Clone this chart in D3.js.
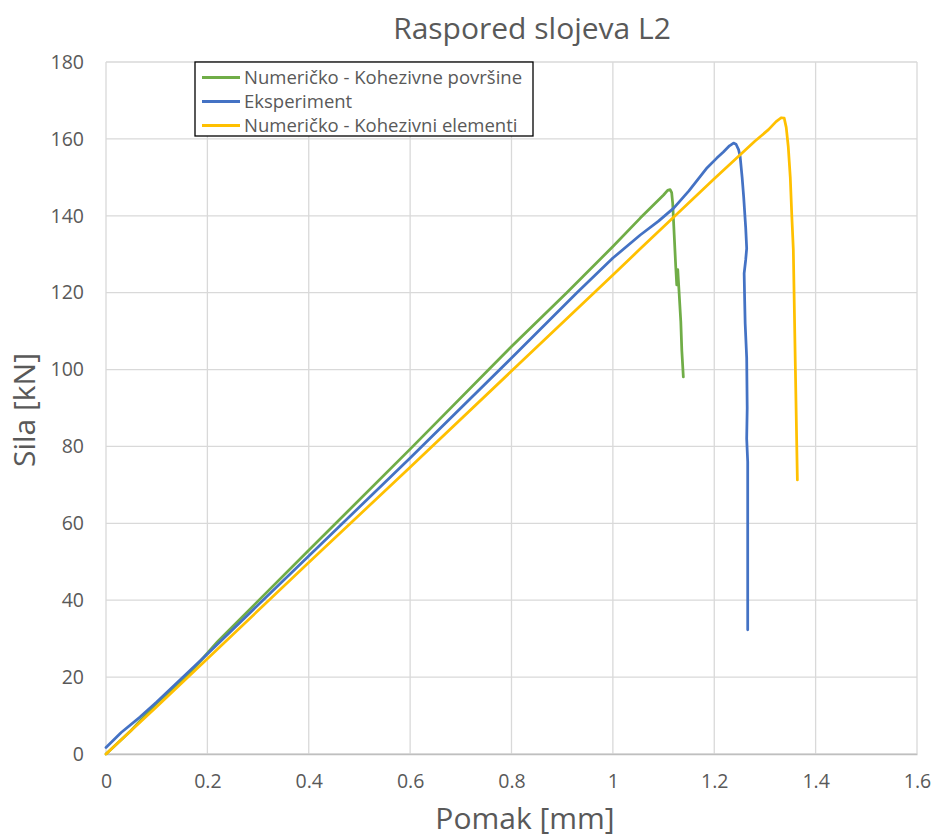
<!DOCTYPE html>
<html>
<head>
<meta charset="utf-8">
<script src="https://cdn.jsdelivr.net/npm/d3@7"></script>
<style>
  body { margin: 0; background: #fff; }
  svg text { font-family: "Open Sans", sans-serif; fill: #595959; }
</style>
</head>
<body>
<div id="chart"></div>
<script>
// Data: [pomak mm, sila kN]
const greenData = [
  [0, 0], [0.05, 6.2], [0.1, 13.2], [0.165, 21], [0.22, 29.2], [0.4, 53], [0.6, 79.3], [0.8, 106],
  [0.909, 120], [1.0, 132], [1.054, 139.4], [1.1, 145.4], [1.108, 146.6], [1.113, 146.8], [1.116, 146],
  [1.118, 143.3], [1.121, 135], [1.124, 126.8], [1.126, 122], [1.128, 126], [1.13, 121.5],
  [1.134, 112.5], [1.136, 105], [1.139, 98.1]
]
const blueData = [
  [0, 1.7], [0.03, 5.6], [0.067, 9.6], [0.1, 13.5], [0.2, 26], [0.4, 51.5], [0.6, 77],
  [0.8, 103], [0.929, 120], [1.0, 129], [1.054, 135], [1.09, 138.6], [1.12, 142], [1.15, 146.5],
  [1.186, 152.5], [1.205, 155], [1.218, 156.6], [1.23, 158.2], [1.238, 158.9], [1.243, 158.6],
  [1.248, 157.2], [1.251, 155.5], [1.255, 150], [1.258, 145], [1.262, 137], [1.264, 131.5],
  [1.262, 128.5], [1.259, 125], [1.26, 118], [1.261, 112], [1.264, 103], [1.265, 90], [1.264, 82],
  [1.266, 76], [1.266, 50], [1.266, 32.3]
]
const yellowData = [
  [0, 0], [0.1, 12.3], [0.2, 24.8], [0.4, 49.8], [0.6, 74.6], [0.8, 99.6],
  [1.0, 124.6], [1.054, 131.4], [1.2, 149.6], [1.28, 159.4], [1.307, 162.4], [1.322, 164.5],
  [1.332, 165.5], [1.338, 165.4], [1.342, 163], [1.346, 158], [1.35, 150], [1.353, 140],
  [1.356, 131.2], [1.36, 100.8], [1.364, 71.3]
]

const seriesNames = ['Numeričko - Kohezivne površine', 'Eksperiment', 'Numeričko - Kohezivni elementi']
const seriesColors = ['#70ad47', '#4472c4', '#ffc000']
const xTicks = [0, 0.2, 0.4, 0.6, 0.8, 1, 1.2, 1.4, 1.6]
const yTicks = [0, 20, 40, 60, 80, 100, 120, 140, 160, 180]

const series = [greenData, blueData, yellowData]

// Constants
const width = 936
const height = 839
const margin = { top: 62, right: 19, bottom: 85, left: 106 }
const graphWidth = width - margin.left - margin.right
const graphHeight = height - margin.top - margin.bottom

const svg = d3.select('#chart')
    .append('svg')
    .attr('width', width)
    .attr('height', height)

const x = d3.scaleLinear().domain([0, 1.6]).range([0, graphWidth])
const y = d3.scaleLinear().domain([0, 180]).range([graphHeight, 0])

const g = svg.append('g')
    .attr('transform', `translate(${margin.left}, ${margin.top})`)

// Grid
g.append('g')
    .selectAll('line')
    .data(yTicks)
    .join('line')
    .attr('x1', 0).attr('x2', graphWidth)
    .attr('y1', d => y(d)).attr('y2', d => y(d))
    .attr('stroke', '#d9d9d9')
    .attr('stroke-width', 1.3)

g.append('g')
    .selectAll('line')
    .data(xTicks)
    .join('line')
    .attr('x1', d => x(d)).attr('x2', d => x(d))
    .attr('y1', 0).attr('y2', graphHeight)
    .attr('stroke', '#d9d9d9')
    .attr('stroke-width', 1.3)

// Axes
const xAxis = d3.axisBottom(x).tickValues(xTicks).tickSize(0).tickPadding(20)
    .tickFormat(d => String(d))
const yAxis = d3.axisLeft(y).tickValues(yTicks).tickSize(0).tickPadding(22)

const xAxisGroup = g.append('g')
    .attr('transform', `translate(0, ${graphHeight})`)
    .call(xAxis)
xAxisGroup.select('.domain').attr('stroke', '#bfbfbf').attr('stroke-width', 1.3)
xAxisGroup.selectAll('text').style('font-size', '19.5px').attr('fill', '#595959')
    .style('font-family', '"Open Sans", sans-serif')

const yAxisGroup = g.append('g').call(yAxis)
yAxisGroup.select('.domain').remove()
yAxisGroup.selectAll('text').style('font-size', '19.5px').attr('fill', '#595959')
    .style('font-family', '"Open Sans", sans-serif')

// Lines
const line = d3.line()
    .x(d => x(d[0]))
    .y(d => y(d[1]))

series.forEach((data, i) => {
    g.append('path')
        .datum(data)
        .attr('d', line)
        .attr('fill', 'none')
        .attr('stroke', seriesColors[i])
        .attr('stroke-width', 2.75)
        .attr('stroke-linejoin', 'round')
        .attr('stroke-linecap', 'round')
})

// Titles
svg.append('text')
    .attr('x', 532)
    .attr('y', 39)
    .attr('text-anchor', 'middle')
    .style('font-size', '30px')
    .text('Raspored slojeva L2')

svg.append('text')
    .attr('x', 525)
    .attr('y', 829)
    .attr('text-anchor', 'middle')
    .style('font-size', '30px')
    .text('Pomak [mm]')

svg.append('text')
    .attr('transform', 'translate(35, 410) rotate(-90)')
    .attr('text-anchor', 'middle')
    .style('font-size', '30px')
    .text('Sila [kN]')

// Legend
const legend = svg.append('g').attr('transform', 'translate(195, 62)')
legend.append('rect')
    .attr('width', 338)
    .attr('height', 74)
    .attr('fill', '#fff')
    .attr('stroke', '#000')
    .attr('stroke-width', 1.3)

seriesNames.forEach((name, i) => {
    const row = legend.append('g').attr('transform', `translate(0, ${15.5 + i * 24})`)
    row.append('line')
        .attr('x1', 7).attr('x2', 45)
        .attr('stroke', seriesColors[i])
        .attr('stroke-width', 3)
    row.append('text')
        .attr('x', 49)
        .attr('y', 6.5)
        .style('font-size', '18.5px')
        .text(name)
})
</script>
</body>
</html>
